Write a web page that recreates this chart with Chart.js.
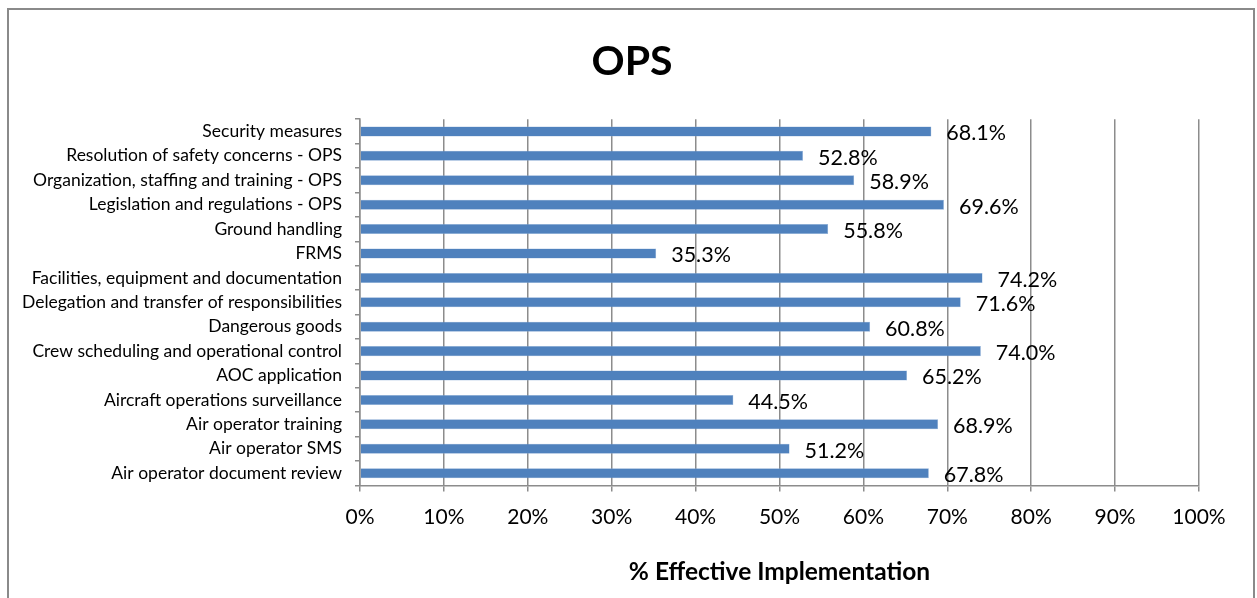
<!DOCTYPE html>
<html>
<head>
<meta charset="utf-8">
<script src="https://cdn.jsdelivr.net/npm/chart.js@4"></script>
<style>
  html, body { margin: 0; padding: 0; background: #fff; overflow: hidden; }
  #wrap { position: relative; width: 1257px; height: 598px; }
  #frame {
    position: absolute; left: 7px; top: 8px; width: 1248px; height: 640px;
    border: 2px solid #8a8a8a; box-sizing: border-box; pointer-events: none;
  }
  canvas { position: absolute; left: 0; top: 0; }
</style>
</head>
<body>
<div id="wrap">
  <canvas id="opsChart" width="1257" height="598"></canvas>
  <div id="frame"></div>
</div>
<script>
const areaLabels = [
  "Security measures",
  "Resolution of safety concerns - OPS",
  "Organization, staffing and training - OPS",
  "Legislation and regulations - OPS",
  "Ground handling",
  "FRMS",
  "Facilities, equipment and documentation",
  "Delegation and transfer of responsibilities",
  "Dangerous goods",
  "Crew scheduling and operational control",
  "AOC application",
  "Aircraft operations surveillance",
  "Air operator training",
  "Air operator SMS",
  "Air operator document review",
];
const eiValues = [68.1, 52.8, 58.9, 69.6, 55.8, 35.3, 74.2, 71.6, 60.8, 74.0, 65.2, 44.5, 68.9, 51.2, 67.8];
const xTicks = [0, 10, 20, 30, 40, 50, 60, 70, 80, 90, 100];

const fontFamily = "Lato, 'Open Sans', sans-serif";
const gridGray = "#8c8c8c";

// Value labels drawn just past the end of each bar
const valueLabels = {
  id: "valueLabels",
  afterDatasetsDraw(chart) {
    const ctx = chart.ctx;
    const meta = chart.getDatasetMeta(0);
    ctx.save();
    ctx.font = "21.5px " + fontFamily;
    ctx.fillStyle = "#000";
    ctx.textAlign = "left";
    ctx.textBaseline = "middle";
    meta.data.forEach((bar, i) => {
      ctx.fillText(eiValues[i].toFixed(1) + "%", bar.x + 15, bar.y + 2);
    });
    ctx.restore();
  },
};

const ctx = document.getElementById("opsChart").getContext("2d");
new Chart(ctx, {
  type: "bar",
  data: {
    labels: areaLabels,
    datasets: [
      {
        data: eiValues,
        backgroundColor: "#4f81bd",
        borderColor: "#8fb0d8",
        borderWidth: 0.5,
        barPercentage: 0.41,
        categoryPercentage: 1,
        yAxisID: "y",
      },
    ],
  },
  options: {
    indexAxis: "y",
    responsive: false,
    animation: false,
    layout: { padding: { top: 35, right: 0, bottom: 11, left: 7 } },
    scales: {
      x: {
        min: 0,
        max: 100,
        afterBuildTicks: (scale) => {
          scale.ticks = xTicks.map((v) => ({ value: v }));
        },
        ticks: {
          padding: 13,
          color: "#000",
          font: { family: fontFamily, size: 21 },
          callback: (v) => v + "%",
        },
        grid: { color: gridGray, lineWidth: 1.5, tickLength: 6 },
        border: { color: gridGray, width: 1.5 },
        title: {
          display: true,
          text: "% Effective Implementation",
          color: "#000",
          font: { family: fontFamily, size: 24.5, weight: "bold" },
          padding: { top: 15, bottom: 0 },
        },
      },
      y: {
        afterFit: (scale) => {
          scale.width = 353;
        },
        ticks: {
          autoSkip: false,
          padding: 13,
          color: "#000",
          font: { family: fontFamily, size: 17.5 },
        },
        grid: {
          drawOnChartArea: false,
          color: gridGray,
          lineWidth: 1.5,
          tickLength: 5,
        },
        border: { color: gridGray, width: 1.5 },
      },
      // empty right-hand margin so the plot stops at 100%
      margin: {
        type: "linear",
        position: "right",
        display: true,
        afterFit: (scale) => {
          scale.width = 58;
        },
        ticks: { display: false },
        grid: { display: false },
        border: { display: false },
      },
    },
    plugins: {
      legend: { display: false },
      tooltip: { enabled: false },
      title: {
        display: true,
        text: "OPS",
        color: "#000",
        font: { family: fontFamily, size: 41, weight: "bold" },
        padding: { top: 2, bottom: 33 },
      },
    },
  },
  plugins: [valueLabels],
});
</script>
</body>
</html>
